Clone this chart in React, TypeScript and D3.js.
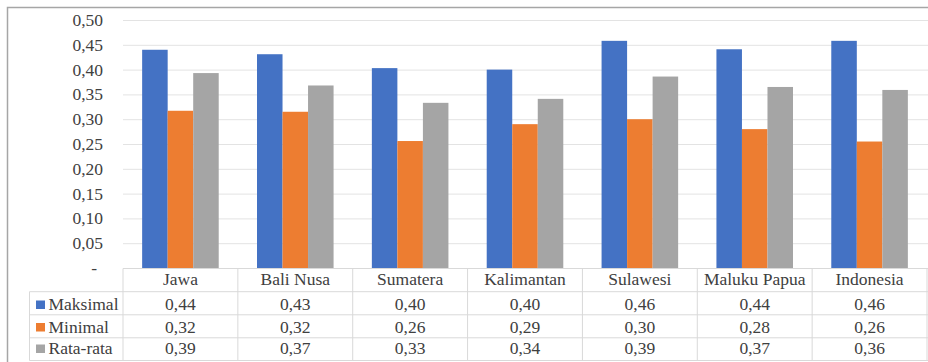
import React, { useEffect, useRef } from "react";
import * as d3 from "d3";

const categories = ["Jawa", "Bali Nusa", "Sumatera", "Kalimantan", "Sulawesi", "Maluku Papua", "Indonesia"];
const seriesNames = ["Maksimal", "Minimal", "Rata-rata"];
const maksimal = [0.441, 0.432, 0.404, 0.401, 0.459, 0.442, 0.459];
const minimal = [0.318, 0.316, 0.257, 0.291, 0.301, 0.281, 0.256];
const rataRata = [0.394, 0.369, 0.334, 0.342, 0.387, 0.366, 0.36];
const yTicks = [0, 0.05, 0.1, 0.15, 0.2, 0.25, 0.3, 0.35, 0.4, 0.45, 0.5];
const colors = ["#4472C4", "#ED7D31", "#A5A5A5"];

const W = 928;
const H = 362;
const TXT = "#404040";

function T(props: { x: number; y: number; anchor?: string; children: React.ReactNode }) {
  return (
    <text
      x={props.x}
      y={props.y}
      textAnchor={props.anchor || "start"}
      fontFamily="Liberation Serif"
      fontSize={17.5}
      fill={TXT}
    >
      {props.children}
    </text>
  );
}

export default function App() {
  const ref = useRef<SVGSVGElement>(null);
  useEffect(() => {
    if (ref.current) {
      d3.select(ref.current)
        .selectAll("text")
        .style("font-family", "Liberation Serif", "important")
        .style("font-size", "17.5px", "important");
    }
  }, []);

  const series = [maksimal, minimal, rataRata];
  const plotLeft = 123;
  const plotRight = 927;
  const y = d3.scaleLinear().domain([0, 0.5]).range([268.5, 20.5]);
  const x0 = d3.scaleBand().domain(categories).range([plotLeft, plotRight]).padding(0);
  const x1 = d3
    .scaleBand()
    .domain(seriesNames)
    .range([0, x0.bandwidth()])
    .paddingInner(0)
    .paddingOuter(0.75);
  const fmt = (v: number) => v.toFixed(2).replace(".", ",");

  const rowTops = [268.5, 291.7, 314.8, 337.8, 360.5];
  const legendLeft = 29.5;
  const gridColor = "#e3e3e3";
  const tableColor = "#d9d9d9";

  return (
    <svg ref={ref} width={W} height={H} style={{ position: "absolute", left: 0, top: 0 }}>
      <rect x={0} y={0} width={W} height={H} fill="#fff" />
      <path d={`M7.5,${H + 2} V7.5 H${W + 2}`} fill="none" stroke="#a6a6a6" strokeWidth={1.5} />

      {yTicks.filter((t) => t > 0).map((t) => (
        <line key={t} x1={plotLeft} x2={W} y1={y(t)} y2={y(t)} stroke={gridColor} strokeWidth={1} />
      ))}

      {yTicks.map((t) => (
        <T key={"l" + t} x={t === 0 ? 97 : 103} y={y(t) + 5.5} anchor="end">
          {t === 0 ? "-" : fmt(t)}
        </T>
      ))}

      {categories.map((c, i) => (
        <g key={c} transform={`translate(${x0(c)},0)`}>
          {seriesNames.map((s, j) => (
            <rect
              key={s}
              x={x1(s)}
              y={y(series[j][i])}
              width={x1.bandwidth()}
              height={y(0) - y(series[j][i])}
              fill={colors[j]}
            />
          ))}
        </g>
      ))}

      <line x1={plotLeft} x2={W} y1={rowTops[0]} y2={rowTops[0]} stroke={tableColor} strokeWidth={1} />
      {rowTops.slice(1).map((ry, k) => (
        <line key={"h" + k} x1={legendLeft} x2={W} y1={ry} y2={ry} stroke={tableColor} strokeWidth={1} />
      ))}
      <line x1={legendLeft} x2={legendLeft} y1={rowTops[1]} y2={rowTops[4]} stroke={tableColor} strokeWidth={1} />
      {categories.map((c) => (
        <line key={"v" + c} x1={x0(c)} x2={x0(c)} y1={rowTops[0]} y2={rowTops[4]} stroke={tableColor} strokeWidth={1} />
      ))}
      <line x1={plotRight} x2={plotRight} y1={rowTops[0]} y2={rowTops[4]} stroke={tableColor} strokeWidth={1} />

      {categories.map((c) => (
        <T key={"c" + c} x={(x0(c) as number) + x0.bandwidth() / 2} y={285} anchor="middle">
          {c}
        </T>
      ))}

      {seriesNames.map((s, j) => {
        const base = [310, 332.5, 354][j];
        return (
          <g key={"r" + s}>
            <rect x={36} y={base - 9.5} width={9} height={8.5} fill={colors[j]} />
            <T x={48.5} y={base}>{s}</T>
            {categories.map((c, i) => (
              <T key={c} x={(x0(c) as number) + x0.bandwidth() / 2} y={base} anchor="middle">
                {fmt(series[j][i])}
              </T>
            ))}
          </g>
        );
      })}
    </svg>
  );
}
